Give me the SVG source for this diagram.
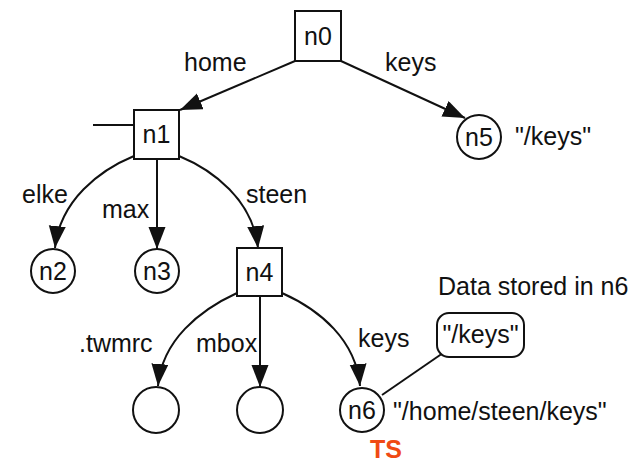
<svg xmlns="http://www.w3.org/2000/svg" width="636" height="464" viewBox="0 0 636 464">
  <style>
    .lbl { font-family: "Liberation Sans", Arial, Helvetica, sans-serif; font-size: 25px; fill: #111; }
    .mid { text-anchor: middle; }
    .box { fill: #fff; stroke: #111; stroke-width: 2; }
    .edge { fill: none; stroke: #111; stroke-width: 2; }
    .arr { marker-end: url(#head); }
    .ts { font-family: "Liberation Sans", Arial, sans-serif; font-size: 25px; font-weight: bold; fill: #f04a14; text-anchor: middle; }
  </style>
  <defs>
    <marker id="head" markerUnits="userSpaceOnUse" markerWidth="24" markerHeight="20" refX="22" refY="8.5" orient="auto">
      <path d="M0,0 L22,8.5 L0,17 z" fill="#111"/>
    </marker>
  </defs>
  <rect width="636" height="464" fill="#fff"/>

  <!-- connectors -->
  <g id="edges">
    <line class="edge" x1="93" y1="125" x2="134" y2="125"/>
    <line class="edge arr" x1="295" y1="61" x2="180" y2="110"/>
    <line class="edge arr" x1="341" y1="61" x2="465" y2="118"/>
    <path class="edge arr" d="M134,156 C100,170 60,200 55,248"/>
    <line class="edge arr" x1="157" y1="159" x2="157" y2="249"/>
    <path class="edge arr" d="M179,156 C213,170 253,200 258,248"/>
    <path class="edge arr" d="M237,293 C200,310 162,340 158,386"/>
    <line class="edge arr" x1="260" y1="296" x2="260" y2="387"/>
    <path class="edge arr" d="M282,293 C320,310 356,340 360,386"/>
    <line class="edge" x1="382" y1="395" x2="443" y2="353"/>
  </g>

  <!-- edge labels -->
  <g id="edge-labels">
    <text class="lbl" x="184" y="71">home</text>
    <text class="lbl" x="385" y="71">keys</text>
    <text class="lbl" x="22" y="203">elke</text>
    <text class="lbl" x="102" y="218">max</text>
    <text class="lbl" x="246" y="203">steen</text>
    <text class="lbl" x="79" y="352">.twmrc</text>
    <text class="lbl" x="196" y="352">mbox</text>
    <text class="lbl" x="358" y="347">keys</text>
  </g>

  <g id="n0">
    <rect class="box" x="295" y="11" width="46" height="50"/>
    <text class="lbl mid" x="318" y="45">n0</text>
  </g>
  <g id="n1">
    <rect class="box" x="134" y="110" width="45" height="49"/>
    <text class="lbl mid" x="156.5" y="143">n1</text>
  </g>
  <g id="n5">
    <circle class="box" cx="479" cy="137" r="22"/>
    <text class="lbl mid" x="479" y="146">n5</text>
    <text class="lbl" x="515" y="145">"/keys"</text>
  </g>
  <g id="n2">
    <circle class="box" cx="53" cy="271" r="22"/>
    <text class="lbl mid" x="53" y="280">n2</text>
  </g>
  <g id="n3">
    <circle class="box" cx="157" cy="271" r="22"/>
    <text class="lbl mid" x="157" y="280">n3</text>
  </g>
  <g id="n4">
    <rect class="box" x="237" y="248" width="45" height="48"/>
    <text class="lbl mid" x="259.5" y="281">n4</text>
  </g>
  <g id="twmrc">
    <circle class="box" cx="156" cy="410" r="23"/>
  </g>
  <g id="mbox">
    <circle class="box" cx="260" cy="410" r="23"/>
  </g>
  <g id="n6">
    <circle class="box" cx="362" cy="410" r="22"/>
    <text class="lbl mid" x="362" y="419">n6</text>
    <text class="lbl" x="393" y="420">"/home/steen/keys"</text>
  </g>
  <g id="data">
    <text class="lbl" x="438" y="295">Data stored in n6</text>
    <rect class="box" x="437" y="313" width="87" height="44" rx="12"/>
    <text class="lbl mid" x="480.5" y="343">"/keys"</text>
  </g>
  <text class="ts" x="386" y="458">TS</text>
</svg>
